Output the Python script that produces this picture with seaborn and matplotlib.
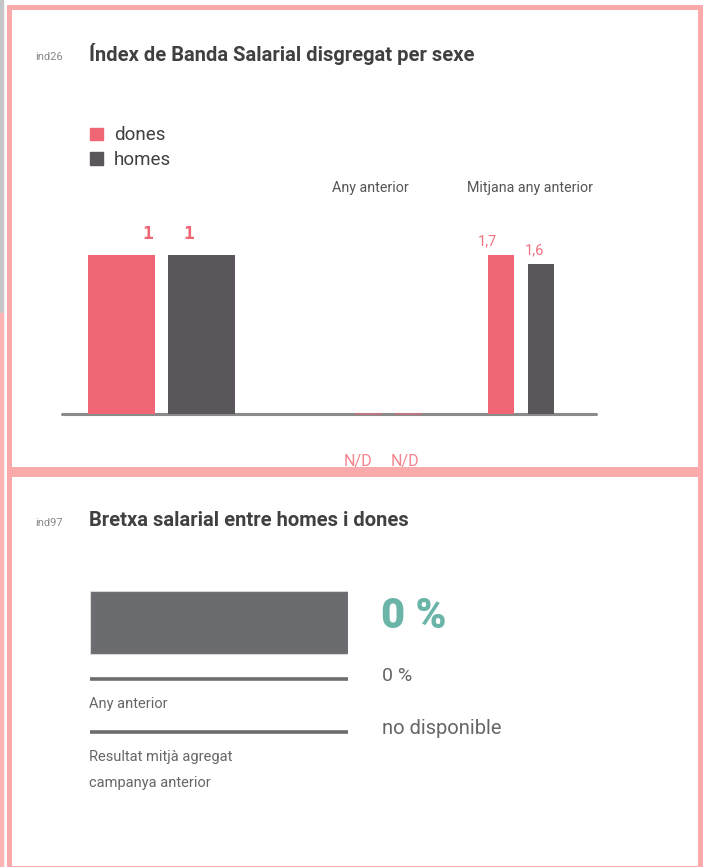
import numpy as np
import pandas as pd
import matplotlib
matplotlib.use("Agg")
import matplotlib.pyplot as plt
import seaborn as sns
from matplotlib.patches import Rectangle, Patch

# Dades
sexes = ["dones", "homes"]
grups = ["Actual", "Any anterior", "Mitjana any anterior"]
valors_actual = [1, 1]
valors_any_anterior = [0, 0]          # N/D
valors_mitjana = [1.7, 1.6]
etiquetes_any_anterior = ["N/D", "N/D"]

bretxa_actual = 0
bretxa_any_anterior = 0
bretxa_mitjana = None                 # no disponible

# Estil
sns.set_theme(style="white")
plt.rcParams['font.family'] = ['Roboto', 'DejaVu Sans']

ROSA = "#f06674"
GRIS_FOSC = "#5b565b"
VORA = "#fbaaab"
TEXT = "#404040"

W, H = 705, 867
fig = plt.figure(figsize=(W / 100, H / 100), dpi=100)


def fx(px):
    return px / W


def fy(py):
    return 1 - py / H


def caixa(x0, y0, x1, y1):
    return [fx(x0), fy(y1), fx(x1) - fx(x0), fy(y0) - fy(y1)]


# Linia base del primer grafic
base = fig.add_axes(caixa(62, 300, 596, 414))
base.axhline(0, color="#8a8a8a", lw=2.2, zorder=0, clip_on=False)
base.set_ylim(0, 1)
base.set_xlim(0, 1)
base.axis("off")

# Tres grups de barres, cadascun amb la seva escala
config = [
    # valors, x0, x1, amplada barra px, separacio px
    (valors_actual, 88, 235, 67, 80),
    (valors_any_anterior, 355, 422, 27, 40),
    (valors_mitjana, 488, 554, 26, 40),
]
for k, (vals, x0, x1, wpx, spx) in enumerate(config):
    ax = fig.add_axes(caixa(x0, 255, x1, 414))
    df = pd.DataFrame({"sexe": sexes, "valor": vals})
    sns.barplot(data=df, x="sexe", y="valor", hue="sexe", dodge=False,
                palette=[ROSA, GRIS_FOSC], saturation=1, width=wpx / spx,
                ax=ax, legend=False,
                edgecolor=[ROSA, GRIS_FOSC] if k == 1 else None,
                linewidth=1.2 if k == 1 else 0)
    half = wpx / spx / 2
    ax.set_xlim(-half, 1 + half)
    ax.set_ylim(0, max(vals) if max(vals) > 0 else 1)
    for p in ax.patches:
        p.set_clip_on(False)
        if k == 1:
            p.set_alpha(0.6)
    ax.axis("off")

    if k == 0:
        for i, v in enumerate(vals):
            dx = [26, -13][i]
            ax.annotate(f"{v:g}", xy=(i, v), xytext=(dx * 0.72, 15),
                        textcoords="offset points", ha="center", va="center",
                        color=ROSA, fontsize=13, fontweight="bold",
                        family=["DejaVu Sans Mono"])
    elif k == 1:
        for i, lab in enumerate(etiquetes_any_anterior):
            dx = [-10.5, -3.5][i]
            ax.annotate(lab, xy=(i, 0), xytext=(dx * 0.72, -34),
                        textcoords="offset points", ha="center", va="center",
                        color="#f7838e", fontsize=11.5)
    else:
        for i, v in enumerate(vals):
            dx = [-14, -6][i]
            ax.annotate(f"{v:g}".replace(".", ","), xy=(i, v),
                        xytext=(dx * 0.72, 10), textcoords="offset points",
                        ha="center", va="center", color="#f27380",
                        fontsize=10.5)

# Capcaleres dels grups
fig.text(fx(370), fy(188), grups[1], ha="center", va="center",
         fontsize=10.3, color="#555555")
fig.text(fx(530), fy(188), grups[2], ha="center", va="center",
         fontsize=10.3, color="#555555")

# Llegenda
handles = [Patch(color=ROSA), Patch(color=GRIS_FOSC)]
fig.legend(handles, sexes, loc="upper left", bbox_to_anchor=(fx(81), fy(117)),
           frameon=False, fontsize=13.5, handlelength=0.65, handleheight=0.65,
           handletextpad=0.6, labelspacing=0.35, borderpad=0, labelcolor=TEXT)

# Titols
fig.text(fx(35), fy(57), "ind26", fontsize=8, color="#888888", va="center")
fig.text(fx(89), fy(54), "Índex de Banda Salarial disgregat per sexe",
         fontsize=14.5, fontweight="bold", color=TEXT, va="center")
fig.text(fx(35), fy(523), "ind97", fontsize=8, color="#888888", va="center")
fig.text(fx(89), fy(521), "Bretxa salarial entre homes i dones",
         fontsize=14.5, fontweight="bold", color=TEXT, va="center")

# Segon grafic: bretxa salarial
ax2 = fig.add_axes(caixa(90, 585, 348, 740))
ax2.set_xlim(0, 1)
ax2.set_ylim(155, 0)
ax2.barh(y=[37.5], width=[1], height=63, left=0, color="#6b6c70",
         edgecolor="#d9d9db", linewidth=0.8)
ax2.hlines([94, 147], 0, 1, color="#6d6d6d", lw=2.6)
ax2.axis("off")

fig.text(fx(89), fy(704), "Any anterior", fontsize=10.5, color="#666666",
         va="center")
fig.text(fx(89), fy(757), "Resultat mitjà agregat", fontsize=10.5,
         color="#666666", va="center")
fig.text(fx(89), fy(783), "campanya anterior", fontsize=10.5, color="#666666",
         va="center")


def fmt(v):
    return "no disponible" if v is None else f"{v:g} %"


fig.text(fx(381), fy(616), fmt(bretxa_actual), fontsize=30, fontweight="heavy",
         color="#6ab5a8", va="center")
fig.text(fx(382), fy(676), fmt(bretxa_any_anterior), fontsize=14,
         color="#666666", va="center")
fig.text(fx(382), fy(729), fmt(bretxa_mitjana), fontsize=14.5,
         color="#666666", va="center")

# Vores dels panells
fig.patches.append(Rectangle((0, fy(313)), fx(3), 1 - fy(313),
                             transform=fig.transFigure, color="#c6c6c6"))
fig.patches.append(Rectangle((0, 0), fx(3), fy(313),
                             transform=fig.transFigure, color="#fcb5b5"))
fig.patches.append(Rectangle((fx(8.5), fy(468.5)), fx(700) - fx(8.5),
                             fy(7) - fy(468.5), transform=fig.transFigure,
                             fill=False, edgecolor=VORA, lw=3.6, zorder=10))
fig.patches.append(Rectangle((fx(8.5), fy(868)), fx(700) - fx(8.5),
                             fy(473.5) - fy(868), transform=fig.transFigure,
                             fill=False, edgecolor=VORA, lw=3.6, zorder=10))

fig.savefig("out.png", dpi=100)
